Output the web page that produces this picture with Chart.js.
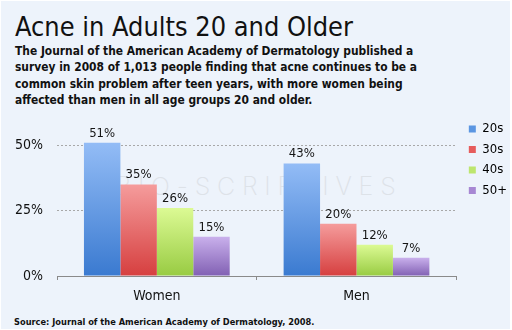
<!DOCTYPE html>
<html>
<head>
<meta charset="utf-8">
<script src="https://cdn.jsdelivr.net/npm/chart.js@4.4.1/dist/chart.umd.min.js"></script>
<style>
  html, body { margin: 0; padding: 0; }
  body { width: 512px; height: 330px; background: #ffffff; overflow: hidden; }
  #card {
    position: absolute; left: 1px; top: 1px; width: 509px; height: 328px;
    background: #edf3fb;
    font-family: "DejaVu Sans Condensed", "DejaVu Sans", sans-serif;
    color: #111;
  }
  #title {
    position: absolute; left: 14px; top: 10px; margin: 0;
    font-size: 26.9px; font-weight: normal; line-height: 32px; white-space: nowrap;
  }
  #subtitle {
    position: absolute; left: 14px; top: 42px; margin: 0;
    font-size: 11.9px; font-weight: bold; line-height: 16.3px; white-space: nowrap;
  }
  #source {
    position: absolute; left: 13px; top: 315px; margin: 0;
    font-size: 9.2px; font-weight: bold; white-space: nowrap;
  }
  #mark {
    position: absolute; left: 114px; top: 170px; margin: 0;
    font-family: Inter, Lato, sans-serif; font-weight: 200; font-size: 25px;
    letter-spacing: 6.8px; color: #dde2e8; white-space: nowrap;
  }
  #wrap { position: absolute; left: -1px; top: 115px; width: 512px; height: 198px; }
</style>
</head>
<body>
<div id="card">
  <h1 id="title">Acne in Adults 20 and Older</h1>
  <p id="subtitle">The Journal of the American Academy of Dermatology published a<br>survey in 2008 of 1,013 people finding that acne continues to be a<br>common skin problem after teen years, with more women being<br>affected than men in all age groups 20 and older.</p>
  <p id="mark">BIO-SCRIPTIVES</p>
  <div id="wrap"><canvas id="acneChart"></canvas></div>
  <p id="source">Source: Journal of the American Academy of Dermatology, 2008.</p>
</div>
<script>
// data
const categories = ["Women", "Men"];
const ageGroups = ["20s", "30s", "40s", "50+"];
const pct20s = [51, 43];
const pct30s = [35, 20];
const pct40s = [26, 12];
const pct50plus = [15, 7];
const yTicks = [0, 25, 50];

const FONT = "'DejaVu Sans Condensed', 'DejaVu Sans', sans-serif";

// top / bottom colours of the bar gradients, and the legend swatch
const shades = [
    { top: "#93bcf6", bottom: "#3a7ad0", key: "#5b96e2" },
    { top: "#f59c9c", bottom: "#d63f3f", key: "#e65c5c" },
    { top: "#dcfa94", bottom: "#98cb42", key: "#bde66e" },
    { top: "#c9b0ec", bottom: "#8160b3", key: "#a787d3" }
];

function barGradient(i) {
    return function (context) {
        const chart = context.chart;
        const y = chart.scales && chart.scales.y;
        if (!chart.chartArea || !y || context.raw === undefined) return shades[i].key;
        const top = y.getPixelForValue(context.raw);
        const base = y.getPixelForValue(0);
        const g = chart.ctx.createLinearGradient(0, top, 0, base);
        g.addColorStop(0, shades[i].top);
        g.addColorStop(1, shades[i].bottom);
        return g;
    };
}

// percentage labels above each bar
const barLabels = {
    id: "barLabels",
    afterDatasetsDraw(chart) {
        const ctx = chart.ctx;
        ctx.save();
        ctx.font = "13px " + FONT;
        ctx.fillStyle = "#151515";
        ctx.textAlign = "center";
        ctx.textBaseline = "bottom";
        chart.data.datasets.forEach((ds, i) => {
            chart.getDatasetMeta(i).data.forEach((bar, j) => {
                ctx.fillText(ds.data[j] + "%", bar.x, bar.y - 3);
            });
        });
        ctx.restore();
    }
};

// nudge the legend a little to the right of the plot
const legendNudge = {
    id: "legendNudge",
    afterLayout(chart) {
        chart.legend.left += 5;
        chart.legend.right += 5;
        chart.legend.top -= 1;
    }
};

const seriesValues = [pct20s, pct30s, pct40s, pct50plus];

const datasets = ageGroups.map((label, i) => ({
    label: label,
    data: seriesValues[i],
    backgroundColor: barGradient(i),
    borderWidth: 0,
    categoryPercentage: 0.73,
    barPercentage: 1.0
}));

new Chart(document.getElementById("acneChart"), {
    type: "bar",
    data: { labels: categories, datasets: datasets },
    plugins: [barLabels, legendNudge],
    options: {
        responsive: true,
        maintainAspectRatio: false,
        animation: false,
        layout: { padding: 0 },
        plugins: {
            title: { display: false },
            tooltip: { enabled: false },
            legend: {
                position: "right",
                align: "start",
                labels: {
                    boxWidth: 7,
                    boxHeight: 7,
                    padding: 7.5,
                    color: "#111",
                    font: { family: FONT, size: 13 },
                    generateLabels: function (chart) {
                        return chart.data.datasets.map((ds, i) => ({
                            text: ds.label,
                            fillStyle: shades[i].key,
                            strokeStyle: shades[i].key,
                            lineWidth: 0,
                            datasetIndex: i
                        }));
                    }
                }
            }
        },
        scales: {
            x: {
                offset: true,
                grid: { display: true, drawOnChartArea: false, tickLength: 4, color: "#8a8a8a", offset: true },
                border: { display: true, color: "#8a8a8a" },
                ticks: { color: "#111", font: { family: FONT, size: 14 }, padding: 8 },
                afterFit: function (scale) { scale.height = 38; }
            },
            y: {
                min: 0,
                max: 58,
                grid: { color: "#a8a8a8", drawTicks: true, tickLength: 14, tickColor: "rgba(0,0,0,0)" },
                border: { display: false, dash: [2, 2] },
                afterBuildTicks: function (scale) {
                    scale.ticks = yTicks.map(v => ({ value: v }));
                },
                ticks: {
                    color: "#111",
                    font: { family: FONT, size: 14 },
                    padding: 0,
                    callback: function (v) { return v + "%"; }
                },
                afterFit: function (scale) { scale.width = 57; }
            }
        }
    }
});
</script>
</body>
</html>
